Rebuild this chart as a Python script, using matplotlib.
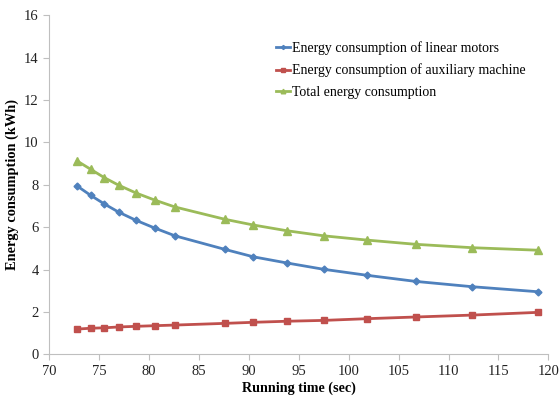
import matplotlib.pyplot as plt

plt.rcParams['font.family'] = ['Liberation Serif', 'DejaVu Serif']

# running time (sec)
time = [72.8, 74.15, 75.5, 76.95, 78.7, 80.55, 82.6, 87.6, 90.45, 93.8,
        97.5, 101.8, 106.7, 112.35, 119.0]
motors = [7.94, 7.5, 7.1, 6.71, 6.32, 5.96, 5.59, 4.95, 4.6, 4.31,
          4.01, 3.73, 3.44, 3.19, 2.95]
auxiliary = [1.19, 1.23, 1.25, 1.29, 1.32, 1.35, 1.38, 1.46, 1.51, 1.56,
             1.6, 1.68, 1.76, 1.85, 1.98]
total = [9.12, 8.73, 8.34, 7.98, 7.61, 7.28, 6.95, 6.37, 6.1, 5.83,
         5.59, 5.39, 5.19, 5.03, 4.91]

fig = plt.figure(figsize=(5.59, 3.99), dpi=100)
ax = fig.add_axes([0.088, 0.112, 0.893, 0.85])

ax.plot(time, motors, color='#4F81BD', lw=2, marker='D', ms=3.5,
        label='Energy consumption of linear motors')
ax.plot(time, auxiliary, color='#C0504D', lw=2, marker='s', ms=5,
        label='Energy consumption of auxiliary machine')
ax.plot(time, total, color='#9BBB59', lw=2, marker='^', ms=5.5,
        label='Total energy consumption')

ax.set_xlim(70, 120)
ax.set_ylim(0, 16)
ax.set_xticks(range(70, 121, 5))
ax.set_yticks(range(0, 17, 2))
ax.set_xlabel('Running time (sec)', fontsize=10.2, fontweight='bold', labelpad=3)
ax.set_ylabel('Energy consumption (kWh)', fontsize=10.4, fontweight='bold')
ax.yaxis.set_label_coords(-0.06, 0.5)

for s in ['top', 'right']:
    ax.spines[s].set_visible(False)
for s in ['left', 'bottom']:
    ax.spines[s].set_color('#BFBFBF')
ax.tick_params(colors='#BFBFBF', labelcolor='#222222', labelsize=10.5, length=4)

ax.legend(loc='upper left', bbox_to_anchor=(0.43, 0.96), frameon=False,
          fontsize=10, handlelength=1.0, handletextpad=0.15, labelspacing=0.62,
          markerscale=0.6)

fig.savefig('out.png', dpi=100)
